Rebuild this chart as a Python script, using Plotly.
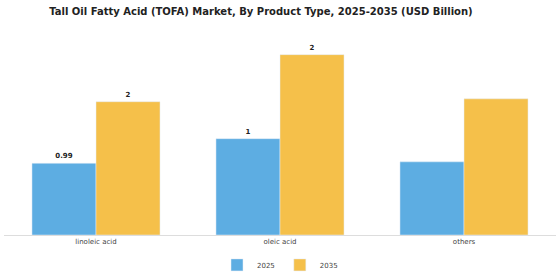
import plotly.graph_objects as go

categories = ["linoleic acid", "oleic acid", "others"]
values_2025 = [0.99, 1.33, 1.01]
values_2035 = [1.84, 2.49, 1.88]
labels_2025 = ["<b>0.99</b>", "<b>1</b>", ""]
labels_2035 = ["<b>2</b>", "<b>2</b>", ""]

fig = go.Figure()
fig.add_bar(x=categories, y=values_2025, name="2025", marker_color="#5DADE2",
            text=labels_2025, textposition="outside", cliponaxis=False,
            textfont=dict(family="DejaVu Sans", size=7, color="#222"))
fig.add_bar(x=categories, y=values_2035, name="2035", marker_color="#F5C04A",
            text=labels_2035, textposition="outside", cliponaxis=False,
            textfont=dict(family="DejaVu Sans", size=7, color="#222"))

fig.update_layout(
    width=560, height=280,
    margin=dict(l=4, r=4, t=30, b=45, autoexpand=False),
    paper_bgcolor="white", plot_bgcolor="white",
    barmode="group", bargap=0.304, bargroupgap=0,
    title=dict(text="<b>Tall Oil Fatty Acid (TOFA) Market, By Product Type, 2025-2035 (USD Billion)</b>",
               x=0.466, xanchor="center", y=0.96, yanchor="middle",
               font=dict(family="DejaVu Sans", size=10, color="#222")),
    xaxis=dict(showline=True, linecolor="#ddd", linewidth=1, ticks="", automargin=False,
               tickfont=dict(family="DejaVu Sans", size=7, color="#444")),
    yaxis=dict(visible=False, range=[0, 2.83]),
    legend=dict(orientation="h", x=0.5, xanchor="center", yref="container", y=0.054, yanchor="middle",
                font=dict(family="DejaVu Sans", size=7, color="#444")),
)
fig.write_html("out.html")
